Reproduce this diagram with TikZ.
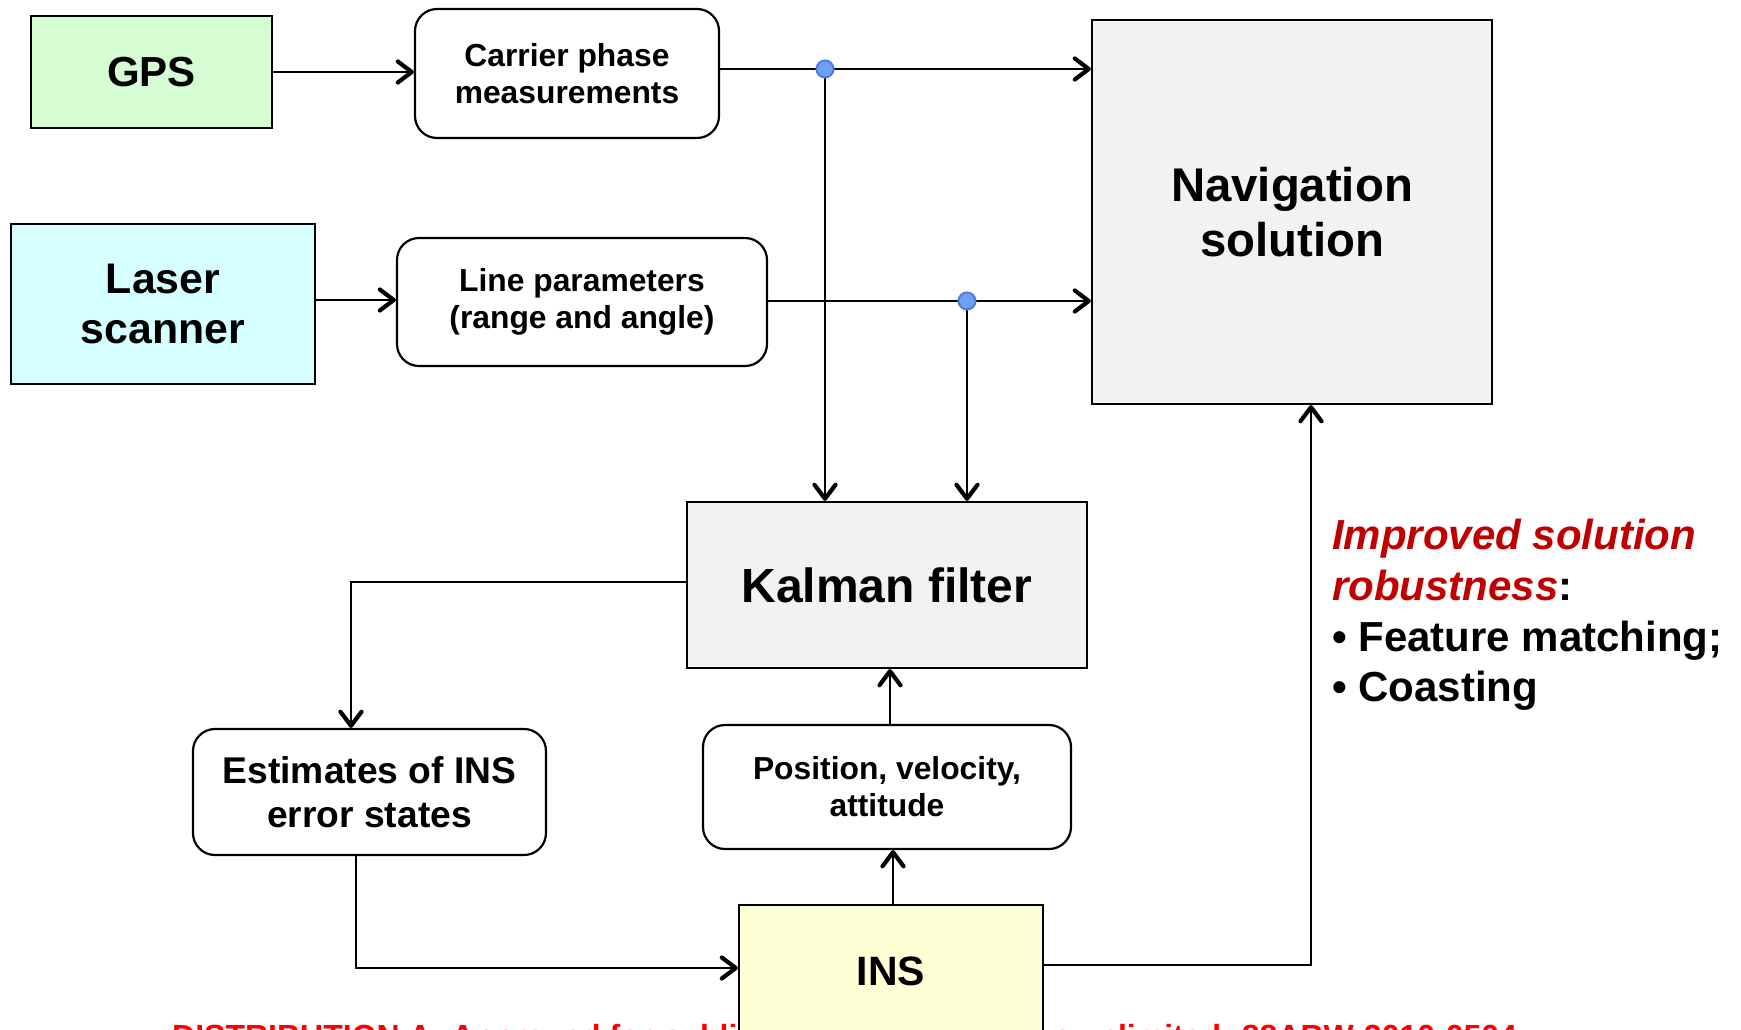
\documentclass[tikz,border=0pt]{standalone}
\usepackage{fontspec}
\setmainfont{Liberation Sans}
\usetikzlibrary{arrows.meta,calc}
\definecolor{gpsgreen}{RGB}{214,252,212}
\definecolor{lasercyan}{RGB}{214,255,255}
\definecolor{navgray}{RGB}{242,242,242}
\definecolor{insyellow}{RGB}{255,255,214}
\definecolor{darkred}{RGB}{192,0,0}
\definecolor{brightred}{RGB}{255,0,0}
\definecolor{dotfill}{RGB}{110,160,245}
\definecolor{dotline}{RGB}{80,125,215}
\tikzset{
  blk/.style={draw=black, line width=2.2pt, inner sep=0pt, align=center, font=\bfseries},
  rbox/.style={blk, fill=white, rounded corners=22pt},
  arr/.style={line width=2pt, -{Straight Barb[length=14pt,width=21pt,line width=4.2pt,round]}},
  ln/.style={line width=2pt},
  jdot/.style={circle, fill=dotfill, draw=dotline, line width=2pt, minimum size=17pt, inner sep=0pt}
}
\newcommand{\fs}[2]{\fontsize{#1pt}{#2pt}\selectfont}
\begin{document}
\begin{tikzpicture}[x=1pt,y=-1pt]
\useasboundingbox (0,0) rectangle (1741,1029);
\clip (0,0) rectangle (1741,1029);
\fill[white] (0,0) rectangle (1741,1029);

% bottom distribution text (partly hidden)
\node[anchor=base west, inner sep=0pt, text=brightred, font=\bfseries\fs{32}{36}] (dist) at (172,1047)
  {DISTRIBUTION A: Approved for public release; distribution unlimited. 88ABW-2010-0504};

% boxes
\node[blk, fill=gpsgreen, minimum width=241pt, minimum height=112pt, font=\bfseries\fs{42}{48}] (gps) at (151.5,72) {GPS};
\node[rbox, minimum width=304pt, minimum height=129pt, font=\bfseries\fs{31.8}{37.5}] (carrier) at (567,73.5) {Carrier phase\\measurements};
\node[blk, fill=lasercyan, minimum width=304pt, minimum height=160pt, font=\bfseries\fs{42.8}{50}] (laser) at (163,304) {Laser\\scanner};
\node[rbox, minimum width=370pt, minimum height=128pt, font=\bfseries\fs{31.8}{37.5}] (line) at (582,302) {Line parameters\\(range and angle)};
\node[blk, fill=navgray, minimum width=400pt, minimum height=384pt, font=\bfseries\fs{47.3}{55.5}] (nav) at (1292,212) {Navigation\\solution};
\node[blk, fill=navgray, minimum width=400pt, minimum height=166pt, font=\bfseries\fs{48}{55}] (kalman) at (887,585) {Kalman filter};
\node[rbox, minimum width=353pt, minimum height=126pt, font=\bfseries\fs{37.2}{44.5}] (est) at (369.5,792) {Estimates of INS\\error states};
\node[rbox, minimum width=368pt, minimum height=124pt, font=\bfseries\fs{31.8}{37}] (pos) at (887,787) {Position, velocity,\\attitude};
\node[blk, fill=insyellow, minimum width=304pt, minimum height=132pt, font=\bfseries\fs{41}{48}] (ins) at (891,971) {INS};

% side text
\node[anchor=north west, inner sep=0pt, align=left, font=\bfseries\fs{42}{50.7}] (robust) at (1332,519)
  {\textcolor{darkred}{\itshape Improved solution}\\
   \textcolor{darkred}{\itshape robustness}:\\
   • Feature matching;\\
   • Coasting};

% junction coordinates
\coordinate (d1) at (825,69);
\coordinate (d2) at (967,301);
\coordinate (kl) at (351,582);
\coordinate (eb) at (356,968);
\coordinate (nb) at (1311,965);

% connectors
\draw[arr] (gps.east) -- (gps.east -| carrier.west);
\draw[arr] (laser.east |- 0,300) -- (line.west |- 0,300);
\draw[arr] (carrier.east |- d1) -- (d1 -| nav.west);
\draw[arr] (d1) -- (d1 |- kalman.north);
\draw[arr] (line.east |- d2) -- (d2 -| nav.west);
\draw[arr] (d2) -- (d2 |- kalman.north);
\draw[arr] (kl -| kalman.west) -- (kl) -- (kl |- est.north);
\draw[arr] (eb |- est.south) -- (eb) -- (eb -| ins.west);
\draw[arr] (893,0 |- ins.north) -- (893,0 |- pos.south);
\draw[arr] (890,0 |- pos.north) -- (890,0 |- kalman.south);
\draw[arr] (nb -| ins.east) -- (nb) -- (nb |- nav.south);

% junction dots
\node[jdot] (j1) at (d1) {};
\node[jdot] (j2) at (d2) {};
\end{tikzpicture}
\end{document}
